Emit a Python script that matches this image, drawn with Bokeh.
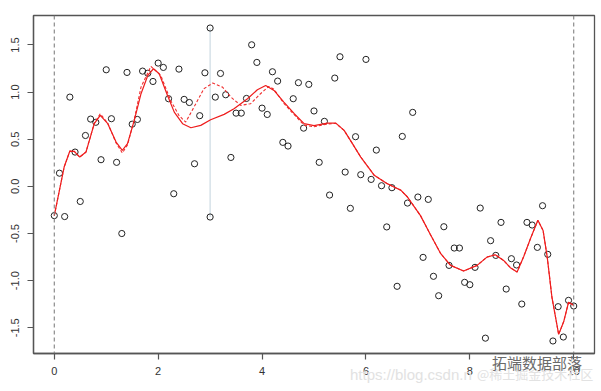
from bokeh.plotting import figure
from bokeh.models import Range1d, Span, FixedTicker, Div
from bokeh.layouts import column
from bokeh.embed import file_html
from bokeh.resources import INLINE

# observed points, x = 0, 0.1, ..., 10
px = [round(i * 0.1, 1) for i in range(101)]
py = [-0.31, 0.14, -0.32, 0.947, 0.364, -0.16, 0.54, 0.714, 0.68, 0.283,
      1.237, 0.718, 0.255, -0.50, 1.209, 0.66, 0.71, 1.223, 1.20, 1.113,
      1.308, 1.262, 0.93, -0.078, 1.244, 0.923, 0.89, 0.24, 0.75, 1.205,
      -0.325, 0.947, 1.198, 0.972, 0.307, 0.777, 0.777, 0.933, 1.502, 1.315,
      0.83, 0.763, 1.216, 1.117, 0.467, 0.428, 0.93, 1.10, 0.618, 1.082,
      0.80, 0.255, 0.69, -0.092, 1.149, 1.375, 0.152, -0.233, 0.527, 0.124,
      1.347, 0.074, 0.385, 0.007, -0.43, -0.014, -1.06, 0.53, -0.177, 0.785,
      -0.113, -0.753, -0.138, -0.954, -1.16, -0.428, -0.838, -0.654, -0.654, -1.018,
      -1.043, -0.859, -0.23, -1.61, -0.576, -0.732, -0.382, -1.089, -0.767, -0.834,
      -1.248, -0.382, -0.41, -0.647, -0.205, -0.721, -1.64, -1.276, -1.598, -1.209,
      -1.269]

# the moved point
moved_x = [3.0]
moved_y = [1.68]
orig_y = [-0.325]

# fitted curve on original data (solid)
sx = [0.00, 0.10, 0.19, 0.30, 0.385, 0.49, 0.61, 0.77, 0.885, 1.03,
      1.19, 1.31, 1.41, 1.54, 1.67, 1.80, 1.91, 2.02, 2.18, 2.31,
      2.47, 2.63, 2.82, 3.01, 3.27, 3.46, 3.72, 3.91, 4.07, 4.23,
      4.42, 4.62, 4.81, 5.00, 5.26, 5.42, 5.58, 5.74, 5.90, 6.09,
      6.16, 6.41, 6.54, 6.67, 6.80, 7.05, 7.24, 7.44, 7.63, 7.88,
      8.14, 8.33, 8.49, 8.65, 8.78, 8.91, 9.04, 9.17, 9.31, 9.41,
      9.49, 9.58, 9.71, 9.81, 9.90, 10.0]
sy = [-0.31, -0.04, 0.205, 0.375, 0.371, 0.311, 0.364, 0.665, 0.753, 0.665,
      0.47, 0.382, 0.453, 0.70, 0.983, 1.177, 1.248, 1.195, 0.965, 0.788,
      0.665, 0.622, 0.647, 0.707, 0.764, 0.824, 0.93, 1.025, 1.071, 1.018,
      0.894, 0.771, 0.665, 0.645, 0.671, 0.671, 0.594, 0.453, 0.311, 0.17,
      0.117, 0.029, -0.007, -0.04, -0.113, -0.31, -0.51, -0.714, -0.838, -0.898,
      -0.838, -0.75, -0.725, -0.785, -0.862, -0.909, -0.74, -0.55, -0.36, -0.467,
      -0.75, -1.174, -1.57, -1.43, -1.23, -1.262]

# fitted curve with the moved point (dashed)
dx = [0.00, 0.10, 0.19, 0.30, 0.385, 0.49, 0.61, 0.77, 0.885, 1.03,
      1.19, 1.31, 1.41, 1.54, 1.67, 1.86, 2.05, 2.24, 2.40, 2.53,
      2.69, 2.88, 3.05, 3.24, 3.40, 3.59, 3.78, 3.97, 4.13, 4.23,
      4.42, 4.62, 4.81, 5.00, 5.26, 5.42, 5.58, 5.74, 5.90, 6.09,
      6.16, 6.41, 6.54, 6.67, 6.80, 7.05, 7.24, 7.44, 7.63, 7.88,
      8.14, 8.33, 8.49, 8.65, 8.78, 8.91, 9.04, 9.17, 9.31, 9.41,
      9.49, 9.58, 9.71, 9.81, 9.90, 10.0]
dy = [-0.31, -0.04, 0.205, 0.375, 0.371, 0.311, 0.364, 0.67, 0.77, 0.67,
      0.46, 0.355, 0.44, 0.71, 1.053, 1.273, 1.177, 0.912, 0.753, 0.682,
      0.841, 1.036, 1.096, 1.053, 0.947, 0.859, 0.877, 0.983, 1.06, 1.03,
      0.88, 0.76, 0.65, 0.632, 0.662, 0.668, 0.594, 0.453, 0.311, 0.17,
      0.117, 0.029, -0.007, -0.04, -0.113, -0.31, -0.51, -0.714, -0.838, -0.898,
      -0.838, -0.75, -0.725, -0.785, -0.862, -0.909, -0.74, -0.55, -0.36, -0.467,
      -0.75, -1.174, -1.57, -1.43, -1.23, -1.262]

x_ticks = [0, 2, 4, 6, 8, 10]
y_ticks = [-1.5, -1.0, -0.5, 0.0, 0.5, 1.0, 1.5]
vlines = [0, 10]
watermark_main = "拓端数据部落"
watermark_url = "https://blog.csdn.n"
watermark_site = "@稀土掘金技术社区"

allx = px
ally = py + moved_y
xr = max(allx) - min(allx)
yr = max(ally) - min(ally)

p = figure(width=601, height=391, output_backend="svg", toolbar_location=None,
           x_range=Range1d(min(allx) - 0.04 * xr, max(allx) + 0.04 * xr),
           y_range=Range1d(min(ally) - 0.04 * yr, max(ally) + 0.04 * yr),
           min_border_left=33, min_border_right=7, min_border_top=15, min_border_bottom=38)
p.grid.visible = False
p.background_fill_color = "white"
p.border_fill_color = "white"
p.outline_line_color = "#555555"
p.outline_line_width = 1.3

for ax in (p.xaxis[0], p.yaxis[0]):
    ax.axis_line_color = "#555555"
    ax.axis_line_width = 1.3
    ax.major_tick_line_color = "#555555"
    ax.major_tick_line_width = 1.2
    ax.major_tick_out = 6
    ax.major_tick_in = 0
    ax.minor_tick_line_color = None
    ax.major_label_text_font = "Liberation Sans"
    ax.major_label_text_font_size = "11px"
    ax.major_label_text_color = "#333333"

p.xaxis[0].ticker = FixedTicker(ticks=x_ticks)
p.xaxis[0].major_label_overrides = {t: str(t) for t in x_ticks}
p.xaxis[0].major_label_standoff = 7
p.yaxis[0].ticker = FixedTicker(ticks=y_ticks)
p.yaxis[0].major_label_overrides = {t: f"{t:.1f}" for t in y_ticks}
p.yaxis[0].major_label_orientation = "vertical"
p.yaxis[0].major_label_standoff = 8

for v in vlines:
    p.add_layout(Span(location=v, dimension="height", line_color="#808080",
                      line_width=1.1, line_dash="4 3"))

p.segment(x0=moved_x, y0=orig_y, x1=moved_x, y1=moved_y,
          line_color="#cddbe3", line_width=1.2)

p.scatter(px, py, marker="circle", size=6.2, fill_color=None,
          line_color="#222222", line_width=1.0)
p.scatter(moved_x, moved_y, marker="circle", size=6.2, fill_color=None,
          line_color="#222222", line_width=1.0)

p.line(dx, dy, line_color="#f03030", line_width=1.1, line_dash="3 2")
p.line(sx, sy, line_color="#ee1c1c", line_width=1.2)

# watermark overlay (below the plot frame, over the tick-label strip)
html = (
    '<div style="position:relative;width:601px;height:30px;line-height:1;">'
    f'<span style="position:absolute;left:350px;top:13px;font-family:\'Liberation Sans\';'
    f'font-size:15px;color:#e2e2e2;white-space:nowrap;">{watermark_url}</span>'
    f'<span style="position:absolute;left:477px;top:13px;font-family:\'Noto Sans CJK SC\';'
    f'font-size:13px;color:#e2e2e2;white-space:nowrap;">{watermark_site}</span>'
    f'<span style="position:absolute;left:492px;top:1px;font-family:\'Noto Sans CJK SC\';'
    f'font-size:15px;color:#6a6a6a;white-space:nowrap;">{watermark_main}</span>'
    '</div>'
)
wm = Div(text=html, width=601, height=30, margin=(-37, 0, 0, 0),
         styles={"position": "relative", "z-index": "10", "pointer-events": "none"})

layout = column(p, wm, spacing=0)
open("out.html", "w").write(file_html(layout, INLINE))
